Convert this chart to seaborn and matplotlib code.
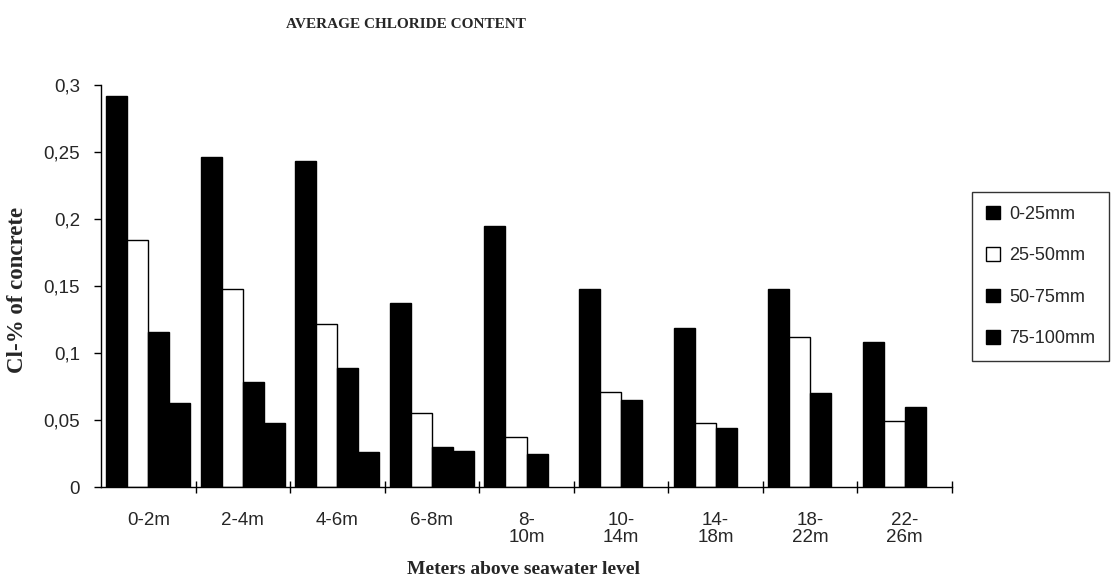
"""
Average chloride content by height above seawater level.
"""

import pandas as pd
import numpy as np
import matplotlib
matplotlib.use('Agg')
import matplotlib.pyplot as plt
from matplotlib.ticker import FuncFormatter, MultipleLocator, FixedLocator
import seaborn as sns

# Data
heights = ['0-2m', '2-4m', '4-6m', '6-8m', '8-\n10m', '10-\n14m', '14-\n18m', '18-\n22m', '22-\n26m']
depths = ['0-25mm', '25-50mm', '50-75mm', '75-100mm']
cl_0_25 = [0.292, 0.246, 0.243, 0.137, 0.195, 0.148, 0.119, 0.148, 0.108]
cl_25_50 = [0.184, 0.148, 0.122, 0.055, 0.037, 0.071, 0.048, 0.112, 0.049]
cl_50_75 = [0.116, 0.078, 0.089, 0.030, 0.025, 0.065, 0.044, 0.070, 0.060]
cl_75_100 = [0.063, 0.048, 0.026, 0.027, np.nan, np.nan, np.nan, np.nan, np.nan]

bar_colors = ['black', 'white', 'black', 'black']

sns.set_style('white')
plt.rcParams['font.family'] = ['Liberation Sans', 'DejaVu Sans']
serif = ['Liberation Serif', 'DejaVu Serif']

# long format for seaborn
df = pd.DataFrame({
    'height': heights * 4,
    'depth': np.repeat(depths, len(heights)),
    'cl': cl_0_25 + cl_25_50 + cl_50_75 + cl_75_100,
})

fig = plt.figure(figsize=(11.15, 5.83), dpi=100)
ax = fig.add_axes([101 / 1115, 96 / 583, 851 / 1115, 402 / 583])

sns.barplot(data=df, x='height', y='cl', hue='depth', order=heights, hue_order=depths,
            palette=bar_colors, edgecolor='black', linewidth=1.0, width=0.89,
            errorbar=None, ax=ax)

ax.set_xlim(-0.5, len(heights) - 0.5)
ax.set_ylim(0, 0.3)

# axes styling, Excel-like
for side in ['top', 'right']:
    ax.spines[side].set_visible(False)
for side in ['left', 'bottom']:
    ax.spines[side].set_color('black')
    ax.spines[side].set_linewidth(1.0)

ax.yaxis.set_major_locator(MultipleLocator(0.05))
ax.yaxis.set_major_formatter(FuncFormatter(lambda v, p: f'{v:.2f}'.rstrip('0').rstrip('.').replace('.', ',')))
ax.tick_params(axis='y', which='major', left=True, direction='out', length=5, width=1,
               color='black', labelsize=13.5, pad=10)

ax.xaxis.set_minor_locator(FixedLocator(np.arange(0.5, len(heights), 1.0)))
ax.tick_params(axis='x', which='major', bottom=False, length=0, labelsize=13.5, pad=18)
ax.tick_params(axis='x', which='minor', bottom=True, direction='inout', length=8, width=1, color='black')
for lab in ax.get_xticklabels():
    lab.set_linespacing(1.0)

ax.set_xlabel('Meters above seawater level', family=serif, fontweight='bold', fontsize=14)
ax.xaxis.set_label_coords(0.496, -0.185)
ax.set_ylabel('Cl-% of concrete', family=serif, fontweight='bold', fontsize=16.5)
ax.yaxis.set_label_coords(-0.086, 0.49)

fig.text(406 / 1115, 1 - 25 / 583, 'AVERAGE CHLORIDE CONTENT', family=serif, fontweight='bold',
         fontsize=11, ha='center', va='center')

leg = ax.legend(loc='upper left', bbox_to_anchor=(972 / 1115, 1 - 192 / 583),
                bbox_transform=fig.transFigure, frameon=True, fancybox=False,
                fontsize=13, handlelength=0.8, handleheight=0.8, handletextpad=0.5,
                labelspacing=1.35, borderpad=0.75, borderaxespad=0)
leg.get_frame().set_edgecolor('black')
leg.get_frame().set_linewidth(1.0)

plt.savefig('out.png', dpi=100)
plt.close()
